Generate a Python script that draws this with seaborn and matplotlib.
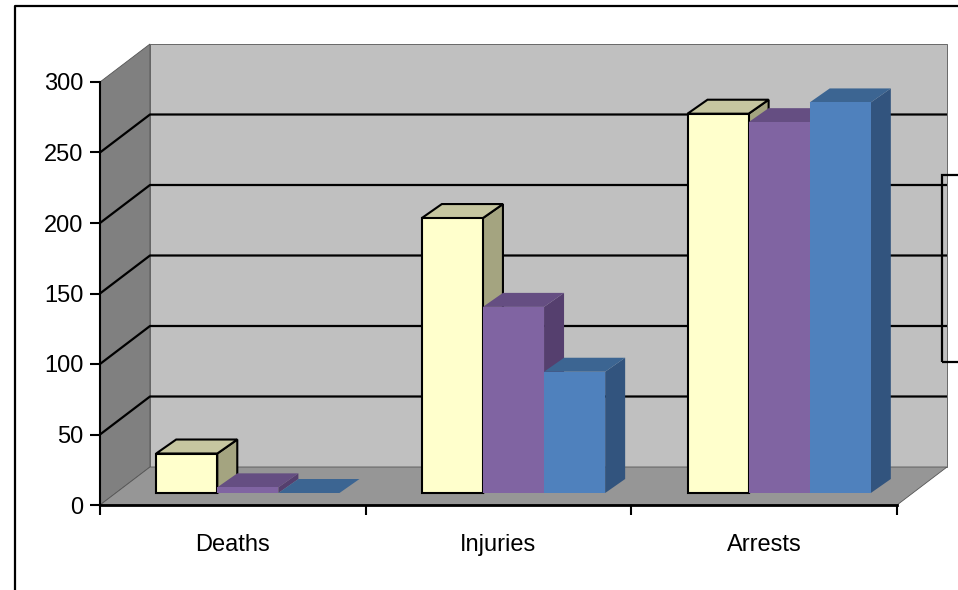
import matplotlib
matplotlib.use('Agg')
import numpy as np
import pandas as pd
import seaborn as sns
import matplotlib.pyplot as plt
from matplotlib.patches import Polygon, Rectangle
from matplotlib.lines import Line2D
from matplotlib.transforms import ScaledTranslation

# data
categories = ['Deaths', 'Injuries', 'Arrests']
series_names = ['Series1', 'Series2', 'Series3']
series1 = [28, 195, 269]
series2 = [4, 132, 263]
series3 = [0, 86, 277]
y_ticks = [0, 50, 100, 150, 200, 250, 300]

# front / top / side shades per series (Excel 3-D column look)
FRONT = ['#FFFFCC', '#8064A2', '#4F81BD']
TOP = ['#C6C6A0', '#654E82', '#3C6592']
SIDE = ['#A4A480', '#553F6E', '#32547E']

W, H, DPI = 958, 590, 100
# pixel box of the front plane of the plot area
X0, X1, Y0, Y1 = 100, 897, 505, 82
WALL = (50, 38)      # depth of walls and floor, px
BAR_OFF = (15, 12)   # bars stand a bit behind the front plane, px
BAR_DEPTH = (20, 14)  # depth of each column, px
FONT_SIZE = 17

if __name__ == '__main__':
    sns.set_style('white')
    plt.rcParams.update({
        'font.family': ['Liberation Sans', 'DejaVu Sans'],
        'text.color': 'black',
        'xtick.color': 'black',
        'ytick.color': 'black',
        'axes.edgecolor': 'black',
    })

    df = pd.DataFrame({
        'Category': categories * 3,
        'Series': np.repeat(series_names, len(categories)),
        'Value': series1 + series2 + series3,
    })

    fig = plt.figure(figsize=(W / DPI, H / DPI), dpi=DPI)
    ax = fig.add_axes([X0 / W, (H - Y0) / H, (X1 - X0) / W, (Y0 - Y1) / H])

    sns.barplot(
        data=df, x='Category', y='Value', hue='Series',
        palette=FRONT, saturation=1, width=0.69, errorbar=None,
        legend=False, ax=ax,
    )
    ax.set_xlim(-0.5, 2.5)
    ax.set_ylim(0, 300)
    ax.patch.set_visible(False)

    px_x = (X1 - X0) / 3.0
    px_y = (Y0 - Y1) / 300.0

    def d(px, py):
        return px / px_x, py / px_y

    # walls and floor
    wx, wy = d(*WALL)
    wall_kw = dict(transform=ax.transData, clip_on=False, zorder=0.5, ec='#555555', lw=0.6)
    ax.add_patch(Polygon([(-0.5, 0), (-0.5 + wx, wy), (-0.5 + wx, 300 + wy), (-0.5, 300)],
                         fc='#808080', **wall_kw))
    ax.add_patch(Polygon([(-0.5 + wx, wy), (2.5 + wx, wy), (2.5 + wx, 300 + wy), (-0.5 + wx, 300 + wy)],
                         fc='#C0C0C0', **wall_kw))
    ax.add_patch(Polygon([(-0.5, 0), (2.5, 0), (2.5 + wx, wy), (-0.5 + wx, wy)],
                         fc='#969696', **wall_kw))
    for v in y_ticks[1:-1]:
        ax.plot([-0.5, -0.5 + wx, 2.5 + wx], [v, v + wy, v + wy],
                color='black', lw=1.6, clip_on=False, zorder=1, solid_capstyle='butt')

    # give the columns depth
    off = ax.transData + ScaledTranslation(BAR_OFF[0] / DPI, BAR_OFF[1] / DPI, fig.dpi_scale_trans)
    bx, by = d(*BAR_DEPTH)
    bars = []
    for si, cont in enumerate(ax.containers):
        for p in cont:
            bars.append((p.get_x(), si, p))
    bars.sort(key=lambda t: t[0])
    for i, (x, si, p) in enumerate(bars):
        w, h = p.get_width(), p.get_height()
        z = 10 + 3 * i
        ec = 'black' if si == 0 else 'none'
        kw = dict(ec=ec, lw=1.5, joinstyle='miter', transform=off, clip_on=False)
        ax.add_patch(Polygon([(x + w, 0), (x + w + bx, by), (x + w + bx, h + by), (x + w, h)],
                             fc=SIDE[si], zorder=z, **kw))
        ax.add_patch(Polygon([(x, h), (x + w, h), (x + w + bx, h + by), (x + bx, h + by)],
                             fc=TOP[si], zorder=z + 1, **kw))
        p.set_transform(off)
        p.set_zorder(z + 2)
        p.set_edgecolor(ec)
        p.set_linewidth(1.5)
        p.set_joinstyle('miter')
        p.set_clip_on(False)

    # axes
    for s in ['top', 'right']:
        ax.spines[s].set_visible(False)
    ax.spines['left'].set_linewidth(1.5)
    ax.spines['bottom'].set_linewidth(2)
    ax.spines['left'].set_zorder(2)
    ax.spines['bottom'].set_zorder(2)
    ax.set_xlabel('')
    ax.set_ylabel('')
    ax.set_yticks(y_ticks)
    ax.set_xticks([-0.5, 0.5, 1.5, 2.5], [''] * 4)
    ax.set_xticks([0, 1, 2], categories, minor=True)
    ax.tick_params(axis='y', left=True, length=7, width=1.5, pad=5, labelsize=FONT_SIZE)
    ax.tick_params(axis='x', which='major', bottom=True, length=7, width=1.5)
    ax.tick_params(axis='x', which='minor', bottom=True, length=0, pad=21, labelsize=FONT_SIZE)

    # chart border and the clipped legend box at the right edge
    fig.add_artist(Line2D([15 / W, 15 / W, 1.01], [-0.01, (H - 6) / H, (H - 6) / H],
                          transform=fig.transFigure, color='black', lw=1.6))
    fig.add_artist(Rectangle((942 / W, (H - 362) / H), 0.2, 187 / H, transform=fig.transFigure,
                             fill=False, ec='black', lw=1.6, zorder=50))

    plt.savefig('out.png', dpi=DPI)
